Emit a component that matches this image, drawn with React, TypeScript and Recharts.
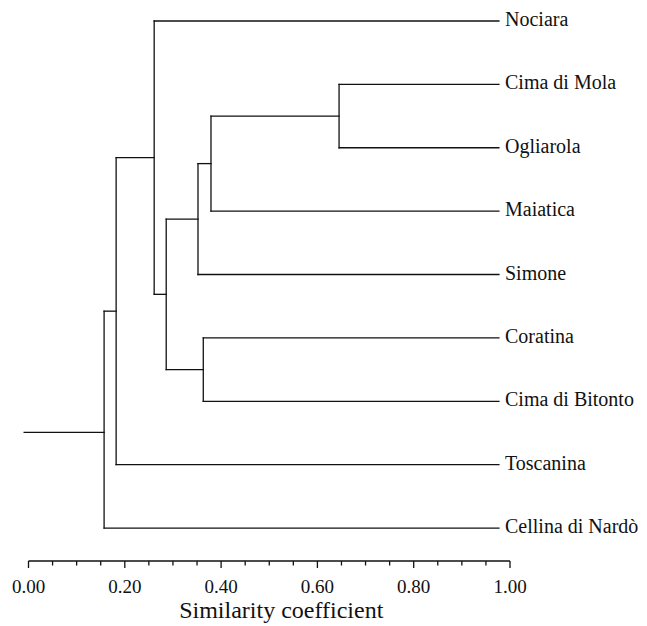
import React from 'react';
import { ComposedChart, XAxis, YAxis, ReferenceLine, Scatter } from 'recharts';

// Leaves, top to bottom
const leafNames = [
  'Nociara',
  'Cima di Mola',
  'Ogliarola',
  'Maiatica',
  'Simone',
  'Coratina',
  'Cima di Bitonto',
  'Toscanina',
  'Cellina di Nardò',
];
const leafIndex = [0, 1, 2, 3, 4, 5, 6, 7, 8];
// similarity level where the leaf branches end (right side)
const leafSimilarity = 0.977;

// Merges: children are leaves ('L<i>') or earlier merges ('N<i>')
const mergeLeft = ['L1', 'N0', 'N1', 'L5', 'N2', 'L0', 'N5', 'N6'];
const mergeRight = ['L2', 'L3', 'L4', 'L6', 'N3', 'N4', 'L7', 'L8'];
const mergeSimilarity = [0.645, 0.379, 0.352, 0.363, 0.286, 0.261, 0.182, 0.157];

// root stub
const rootStubStart = -0.009;
const rootStubLevel = 6.49;

// x-axis ticks
const xTicks = [0, 0.05, 0.1, 0.15, 0.2, 0.25, 0.3, 0.35, 0.4, 0.45, 0.5, 0.55, 0.6, 0.65, 0.7, 0.75, 0.8, 0.85, 0.9, 0.95, 1.0];
const xMajorTicks = [0, 0.2, 0.4, 0.6, 0.8, 1.0];
const xTitle = 'Similarity coefficient';

const FONT = '"Liberation Serif", "Times New Roman", serif';
const INK = '#111';

type P = { x: number; y: number };

const leafTips: P[] = leafIndex.map((i) => ({ x: leafSimilarity, y: i }));

function buildSegments(): [P, P][] {
  const pos: Record<string, P> = {};
  leafTips.forEach((p, i) => {
    pos['L' + i] = p;
  });
  const segs: [P, P][] = [];
  mergeSimilarity.forEach((s, i) => {
    const a = pos[mergeLeft[i]];
    const b = pos[mergeRight[i]];
    segs.push([{ x: s, y: a.y }, { x: a.x, y: a.y }]);
    segs.push([{ x: s, y: b.y }, { x: b.x, y: b.y }]);
    segs.push([{ x: s, y: a.y }, { x: s, y: b.y }]);
    pos['N' + i] = { x: s, y: (a.y + b.y) / 2 };
  });
  const root = pos['N' + (mergeSimilarity.length - 1)];
  segs.push([{ x: rootStubStart, y: rootStubLevel }, { x: root.x, y: rootStubLevel }]);
  return segs;
}

const segments = buildSegments();

const XTick = (props: any) => {
  const { x, y, payload } = props;
  const v = payload.value as number;
  const major = xMajorTicks.some((m) => Math.abs(m - v) < 1e-9);
  return (
    <g>
      <line x1={x} x2={x} y1={y} y2={y + (major ? 7 : 4.5)} stroke={INK} strokeWidth={1.3} />
      {major && (
        <text x={x} y={y + 32} textAnchor="middle" fontFamily={FONT} fontSize={19} fill={INK}>
          {v.toFixed(2)}
        </text>
      )}
    </g>
  );
};

const LeafTick = (props: any) => {
  const { x, y, payload } = props;
  return (
    <text x={x - 5} y={y + 5} textAnchor="start" fontFamily={FONT} fontSize={20} fill={INK}>
      {leafNames[payload.value]}
    </text>
  );
};

export default function App() {
  return (
    <ComposedChart width={639} height={618} margin={{ top: 13, right: 0, bottom: 0, left: 20.5 }}>
      <XAxis
        type="number"
        dataKey="x"
        domain={[0, 1]}
        allowDataOverflow
        ticks={xTicks}
        interval={0}
        tickSize={0}
        tickMargin={0}
        tickLine={false}
        tick={<XTick />}
        axisLine={{ stroke: INK, strokeWidth: 1.3 }}
        height={65}
        label={{
          value: xTitle,
          position: 'insideBottom',
          offset: 8,
          dx: 12,
          style: { fontFamily: FONT, fontSize: 24, fill: INK },
        }}
      />
      <YAxis
        type="number"
        dataKey="y"
        orientation="right"
        domain={[0, 8.52]}
        allowDataOverflow
        reversed
        ticks={leafIndex}
        interval={0}
        tickSize={0}
        tickMargin={0}
        tickLine={false}
        axisLine={false}
        tick={<LeafTick />}
        width={137}
      />
      <Scatter data={leafTips} dataKey="y" isAnimationActive={false} shape={() => <g />} />
      {segments.map((s, i) => (
        <ReferenceLine
          key={i}
          segment={s}
          ifOverflow="visible"
          stroke={INK}
          strokeWidth={1.3}
          strokeLinecap="square"
        />
      ))}
    </ComposedChart>
  );
}
